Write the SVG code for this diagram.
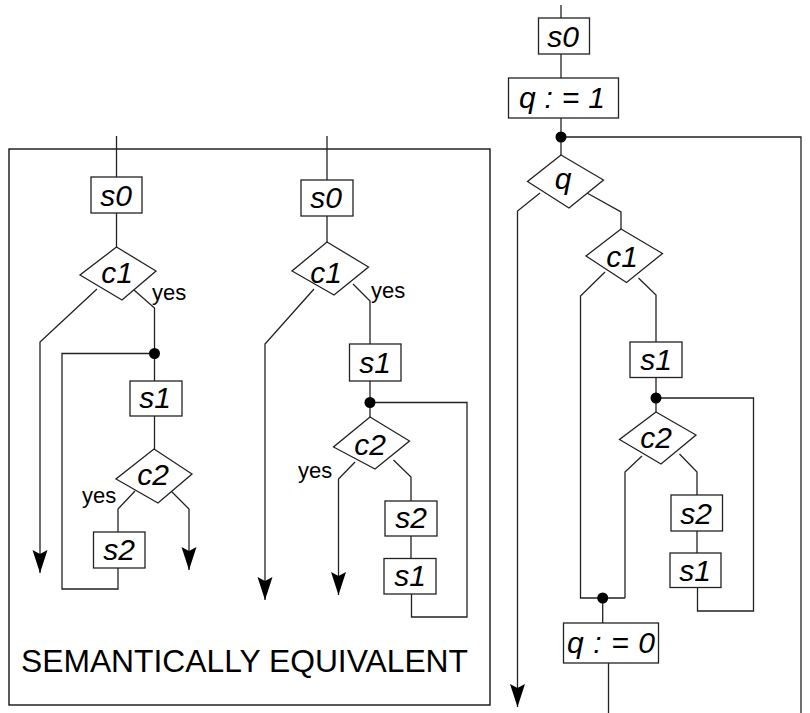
<svg xmlns="http://www.w3.org/2000/svg" width="810" height="713" viewBox="0 0 810 713">
<defs>
<style>
.ln{fill:none;stroke:#222;stroke-width:1.3}
.bx{fill:#fff;stroke:#222;stroke-width:1.3}
.lb{font-family:"Liberation Sans",Arial,sans-serif;font-style:italic;font-size:30px;fill:#000;text-anchor:middle}
.yes{font-family:"Liberation Sans",Arial,sans-serif;font-size:22px;fill:#000}
.dot{fill:#000}
</style>
<marker id="ah" markerUnits="userSpaceOnUse" markerWidth="24" markerHeight="16" viewBox="0 -8 24 16" refX="23" refY="0" orient="auto">
<path d="M0,-7.5 L4,0 L0,7.5 L23,0 Z" fill="#000"/>
</marker>
</defs>
<rect width="810" height="713" fill="#fff"/>
<rect id="frame" x="9" y="149" width="481" height="556" fill="none" stroke="#000" stroke-width="1.3"/>
<g id="connectors">
<path class="ln" d="M116.5,136 V177"/>
<path class="ln" d="M116.5,213 V247"/>
<path class="ln" d="M97,289 L40,342 V573" marker-end="url(#ah)"/>
<path class="ln" d="M134,290 L154.5,308 V381"/>
<path class="ln" d="M154.5,353.5 H62 V589 H118 V568"/>
<path class="ln" d="M154.5,416 V449"/>
<path class="ln" d="M135,491 L118,509 V532"/>
<path class="ln" d="M171,491 L189,509 V570" marker-end="url(#ah)"/>
<path class="ln" d="M327,136 V180"/>
<path class="ln" d="M327,216 V242"/>
<path class="ln" d="M314,289 L265,344 V600" marker-end="url(#ah)"/>
<path class="ln" d="M353,284 L370,301 V344"/>
<path class="ln" d="M370,381 V417"/>
<path class="ln" d="M370,402.5 H467 V617 H411.5 V594"/>
<path class="ln" d="M355,462 L338.5,479 V595" marker-end="url(#ah)"/>
<path class="ln" d="M393.5,460 L411,477 V501"/>
<path class="ln" d="M411,536 V558.5"/>
<path class="ln" d="M561,5 V18"/>
<path class="ln" d="M561,54 V78"/>
<path class="ln" d="M561,118 V155"/>
<path class="ln" d="M561,137 H801 V713"/>
<path class="ln" d="M540,193 L517.5,211 V707" marker-end="url(#ah)"/>
<path class="ln" d="M587,193 L621,212 V229"/>
<path class="ln" d="M605,272 L580.5,296 V598 H625"/>
<path class="ln" d="M638.5,278 L656,295 V342"/>
<path class="ln" d="M656,377.5 V412"/>
<path class="ln" d="M656,398 H753.5 V611 H697.5 V587.5"/>
<path class="ln" d="M642,456 L625,472 V598"/>
<path class="ln" d="M679.5,454 L697,472 V495"/>
<path class="ln" d="M697,531 V553"/>
<path class="ln" d="M602.7,598 V623"/>
<path class="ln" d="M608.5,663 V713"/>
<circle class="dot" cx="154.5" cy="353.5" r="5.5"/>
<circle class="dot" cx="370" cy="402.5" r="5.5"/>
<circle class="dot" cx="561" cy="137" r="5.5"/>
<circle class="dot" cx="656" cy="398" r="5.5"/>
<circle class="dot" cx="602.7" cy="598" r="5.5"/>
</g>
<g id="L_s0"><rect class="bx" x="91" y="177" width="51" height="36"/><text class="lb" x="116" y="206">s0</text></g>
<g id="L_c1"><polygon class="bx" points="116.5,247 156,271 122,300 80,275"/><text class="lb" x="117" y="283">c1</text></g>
<g id="L_yes1"><text class="yes" x="152" y="300">yes</text></g>
<g id="L_s1"><rect class="bx" x="130" y="381" width="52" height="35"/><text class="lb" x="155" y="408">s1</text></g>
<g id="L_c2"><polygon class="bx" points="154,449 192,474 158,503 116,479"/><text class="lb" x="153" y="485">c2</text></g>
<g id="L_yes2"><text class="yes" x="82" y="503">yes</text></g>
<g id="L_s2"><rect class="bx" x="93.5" y="532" width="51.5" height="36"/><text class="lb" x="119" y="560">s2</text></g>
<g id="M_s0"><rect class="bx" x="301" y="180" width="52" height="36"/><text class="lb" x="326" y="208">s0</text></g>
<g id="M_c1"><polygon class="bx" points="327,242 368.5,267 334,295 292,271"/><text class="lb" x="326" y="283">c1</text></g>
<g id="M_yes1"><text class="yes" x="371" y="298">yes</text></g>
<g id="M_s1"><rect class="bx" x="349.5" y="344" width="51.5" height="37"/><text class="lb" x="375" y="373">s1</text></g>
<g id="M_c2"><polygon class="bx" points="370,417 409.5,441 375,469 333.5,447"/><text class="lb" x="370" y="455">c2</text></g>
<g id="M_yes2"><text class="yes" x="298" y="478">yes</text></g>
<g id="M_s2"><rect class="bx" x="385" y="501" width="52" height="35"/><text class="lb" x="411" y="528">s2</text></g>
<g id="M_s1b"><rect class="bx" x="384" y="558.5" width="52" height="35.5"/><text class="lb" x="410" y="586">s1</text></g>
<g id="R_s0"><rect class="bx" x="538.5" y="18" width="51" height="36"/><text class="lb" x="563" y="47">s0</text></g>
<g id="R_q1"><rect class="bx" x="508.5" y="78" width="110" height="40"/><text class="lb" x="562" y="108" textLength="86" lengthAdjust="spacing">q : = 1</text></g>
<g id="R_q"><polygon class="bx" points="561,155 603.5,180 569,208 527.5,181.5"/><text class="lb" x="563" y="189">q</text></g>
<g id="R_c1"><polygon class="bx" points="621,229 662.5,253.5 626.5,282.5 586,256"/><text class="lb" x="622" y="267">c1</text></g>
<g id="R_s1"><rect class="bx" x="630" y="342" width="52" height="35.5"/><text class="lb" x="656" y="370">s1</text></g>
<g id="R_c2"><polygon class="bx" points="656,412 696,435 661,464 619.5,439.5"/><text class="lb" x="656" y="448">c2</text></g>
<g id="R_s2"><rect class="bx" x="671" y="495" width="51.5" height="36"/><text class="lb" x="696" y="524">s2</text></g>
<g id="R_s1b"><rect class="bx" x="670" y="553" width="51" height="34.5"/><text class="lb" x="695" y="581">s1</text></g>
<g id="R_q0"><rect class="bx" x="563.5" y="623" width="95" height="40"/><text class="lb" x="611" y="653" textLength="88" lengthAdjust="spacing">q : = 0</text></g>
<g id="caption"><text x="21" y="672" font-family="Liberation Sans,Arial,sans-serif" font-size="31.5" fill="#000" textLength="447" lengthAdjust="spacingAndGlyphs">SEMANTICALLY EQUIVALENT</text></g>
</svg>
